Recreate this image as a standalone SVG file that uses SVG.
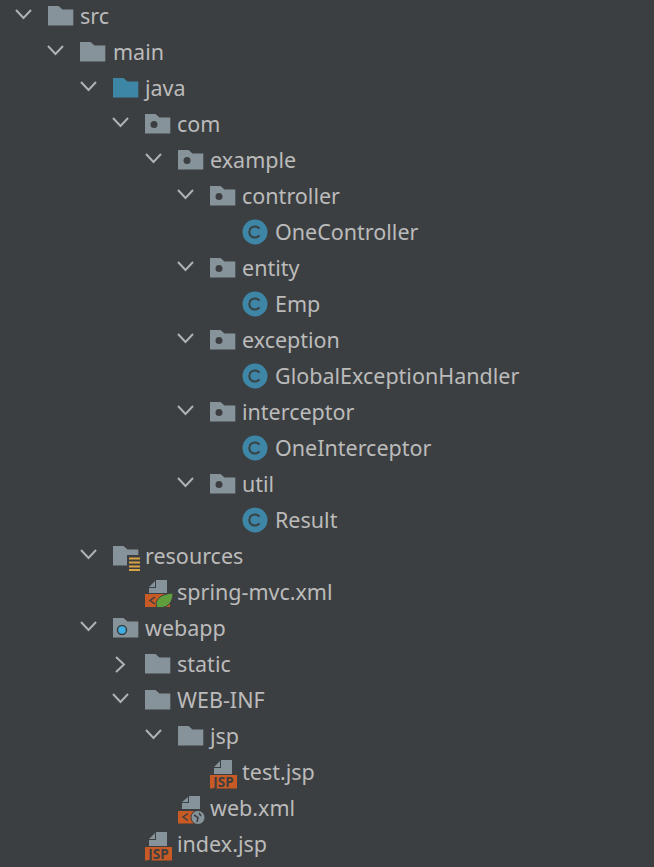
<svg xmlns="http://www.w3.org/2000/svg" width="654" height="867" viewBox="0 0 654 867">
<style>
text{font-family:"Noto Sans","Open Sans","Liberation Sans",sans-serif;font-size:21.5px;fill:#bbbbbb}
.chev{fill:none;stroke:#afb1b3;stroke-width:2}
.f{fill:#87939a}.b{fill:#3d86a6}.o{fill:#c75a25}.d{fill:#3c3f41}
text.j{font-size:13.5px;font-weight:700;fill:#3c3f41;text-anchor:middle}
</style>
<defs>
<path id="folder" d="M0-10H10.500L14.500-6.500H25.300V9.500H0Z"/>
<g id="pkg"><use href="#folder" class="f"/><circle cx="9" cy="0.500" r="3.500" class="d"/></g>
<g id="cls"><circle cx="13" cy="0" r="12.500" class="b"/><path d="M17.500-3.200A5.600 5.600 0 1 0 17.500 3.200" fill="none" stroke="#3c3f41" stroke-width="2"/></g>
<g id="jsp"><path d="M4 -10L10 -16V-10ZM11-17H22V-3H4V-9H11Z" class="f"/><rect x="0" y="-2" width="27" height="13.500" class="o"/><text x="13.500" y="10" class="j">JSP</text></g>
<path id="cd" class="chev" d="M0-6L7.500 2L15-6"/>
</defs>
<rect width="654" height="867" fill="#3c3f41"/>
<g id="connectors">
<use href="#cd" x="16" y="16"/><use href="#cd" x="48" y="52"/><use href="#cd" x="81" y="88"/><use href="#cd" x="113" y="124"/><use href="#cd" x="146" y="160"/>
<use href="#cd" x="178" y="196"/><use href="#cd" x="178" y="268"/><use href="#cd" x="178" y="340"/><use href="#cd" x="178" y="412"/><use href="#cd" x="178" y="484"/>
<use href="#cd" x="81" y="556"/><use href="#cd" x="81" y="628"/><path class="chev" d="M116 657L124 664.500L116 672"/><use href="#cd" x="113" y="700"/><use href="#cd" x="146" y="736"/>
</g>
<g id="src"><use href="#folder" class="f" x="48" y="16"/><text x="80" y="24">src</text></g>
<g id="main"><use href="#folder" class="f" x="80" y="52"/><text x="113" y="60">main</text></g>
<g id="java"><use href="#folder" class="b" x="113" y="88"/><text x="145" y="96">java</text></g>
<g id="com"><use href="#pkg" x="145" y="124"/><text x="177" y="132">com</text></g>
<g id="example"><use href="#pkg" x="178" y="160"/><text x="210" y="168">example</text></g>
<g id="controller"><use href="#pkg" x="210" y="196"/><text x="242" y="204">controller</text></g>
<g id="OneController"><use href="#cls" x="242" y="232"/><text x="275" y="240">OneController</text></g>
<g id="entity"><use href="#pkg" x="210" y="268"/><text x="242" y="276">entity</text></g>
<g id="Emp"><use href="#cls" x="242" y="304"/><text x="275" y="312">Emp</text></g>
<g id="exception"><use href="#pkg" x="210" y="340"/><text x="242" y="348">exception</text></g>
<g id="GlobalExceptionHandler"><use href="#cls" x="242" y="376"/><text x="275" y="384">GlobalExceptionHandler</text></g>
<g id="interceptor"><use href="#pkg" x="210" y="412"/><text x="242" y="420">interceptor</text></g>
<g id="OneInterceptor"><use href="#cls" x="242" y="448"/><text x="275" y="456">OneInterceptor</text></g>
<g id="util"><use href="#pkg" x="210" y="484"/><text x="242" y="492">util</text></g>
<g id="Result"><use href="#cls" x="242" y="520"/><text x="275" y="528">Result</text></g>
<g id="resources"><use href="#folder" class="f" x="113" y="556"/><rect x="127" y="555" width="13" height="17" class="d"/><path d="M129 558.500H140M129 562.500H140M129 566.500H140M129 570H140" stroke="#d9a343" stroke-width="2"/><text x="145" y="564">resources</text></g>
<g id="spring-mvc"><path d="M149 587L155 581V587ZM156 580H167V593H149V588H156Z" class="f"/><rect x="145" y="594" width="25" height="13" class="o"/><path d="M155 597L150 600.500L155 604" fill="none" stroke="#3c3f41" stroke-width="1.500"/><path d="M157 607.500C154 600 160 594 173 593C173 602 168 609 157 607.500Z" fill="#5e9e3c" stroke="#3c3f41"/><text x="177" y="600">spring-mvc.xml</text></g>
<g id="webapp"><use href="#folder" class="f" x="113" y="628"/><circle cx="122" cy="630" r="4.500" fill="#3fb0e6" stroke="#3c3f41" stroke-width="1.500"/><text x="145" y="636">webapp</text></g>
<g id="static"><use href="#folder" class="f" x="145" y="664"/><text x="177" y="672">static</text></g>
<g id="WEB-INF"><use href="#folder" class="f" x="145" y="700"/><text x="177" y="708">WEB-INF</text></g>
<g id="jsp-dir"><use href="#folder" class="f" x="178" y="736"/><text x="210" y="744">jsp</text></g>
<g id="test"><use href="#jsp" x="210" y="777"/><text x="242" y="780">test.jsp</text></g>
<g id="web"><path d="M182 802L188 797V802ZM189 796H200V809H182V803H189Z" class="f"/><rect x="178" y="811" width="24" height="12.500" class="o"/><path d="M188 813.500L183 817L188 820.500" fill="none" stroke="#3c3f41" stroke-width="1.500"/><circle cx="198" cy="817.500" r="7" fill="#87939a" stroke="#3c3f41"/><path d="M194 815L198 817.500L197 822M199 813L201 816" stroke="#3c3f41" fill="none" stroke-width="1.500"/><text x="210" y="816">web.xml</text></g>
<g id="index"><use href="#jsp" x="145" y="849"/><text x="177" y="852">index.jsp</text></g>
</svg>
